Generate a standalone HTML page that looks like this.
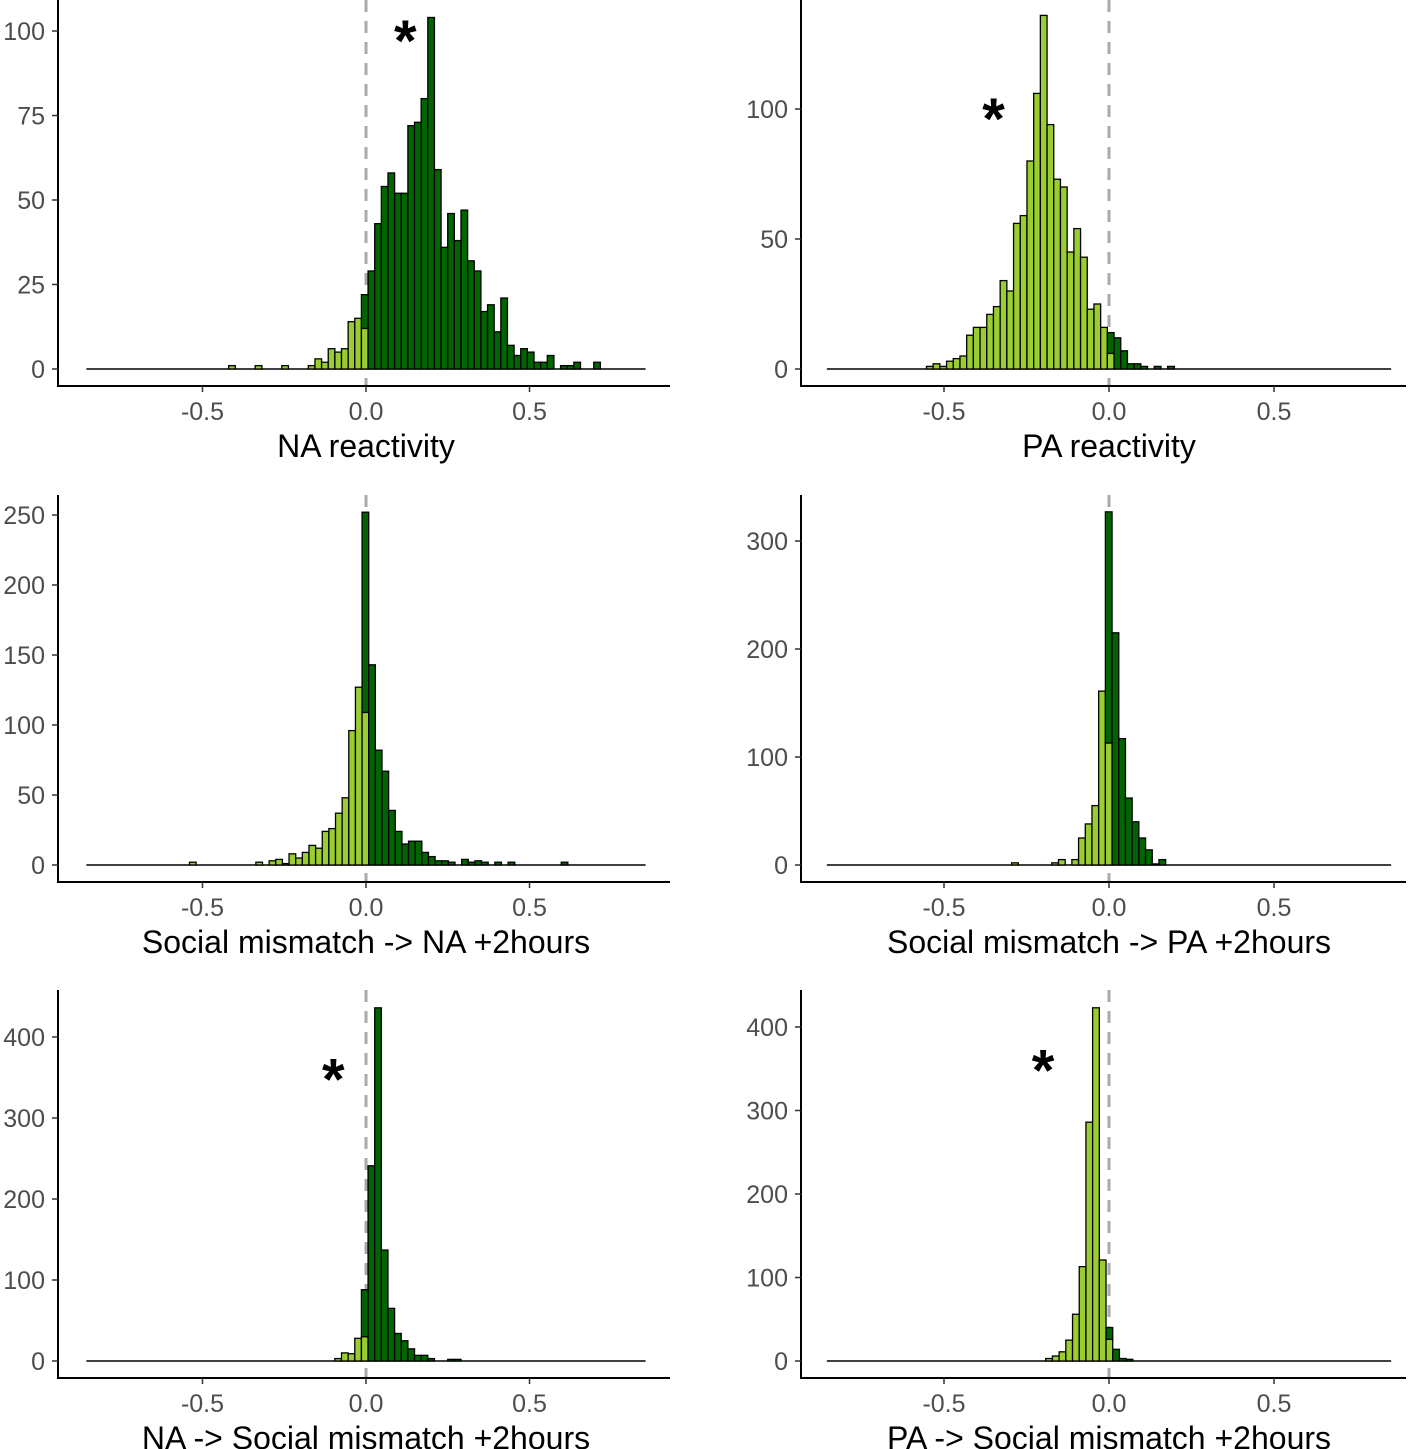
<!DOCTYPE html>
<html><head><meta charset="utf-8"><style>
html,body{margin:0;padding:0;background:#fff;}
svg{display:block;font-family:"Liberation Sans",sans-serif;}
</style></head><body>
<svg id="chart" width="1416" height="1449" viewBox="0 0 1416 1449" xmlns="http://www.w3.org/2000/svg"></svg>
<script>
// ---- data (counts per bin; bin index k, left edge = offset + k*binWidth) ----
const xTickLabels = ["-0.5", "0.0", "0.5"];
const xTickValues = [-0.5, 0, 0.5];
const titles = ["NA reactivity", "PA reactivity", "Social mismatch -> NA +2hours", "Social mismatch -> PA +2hours", "NA -> Social mismatch +2hours", "PA -> Social mismatch +2hours"];
const yTicks1 = [0, 25, 50, 75, 100];
const yTicks2 = [0, 50, 100];
const yTicks3 = [0, 50, 100, 150, 200, 250];
const yTicks4 = [0, 100, 200, 300];
const yTicks5 = [0, 100, 200, 300, 400];
const yTicks6 = [0, 100, 200, 300, 400];
const binWidth = 0.0203;
const binOffsets = [-0.014, -0.005, -0.012, -0.011, -0.014, -0.009];
const lightStart = [-20, -27, -26, -14, -4, -9];
const darkStart = [0, 0, 0, 0, 0, 0];
const p1Light = [1,0,0,0,1,0,0,0,1,0,0,0,1,3,2,6,5,6,14,15,12];
const p1Dark = [10,29,43,54,58,52,52,72,73,80,104,59,36,46,38,47,32,29,17,19,11,21,7,4,6,5,2,2,4,0,1,1,2,0,0,2];
const p2Light = [1,2,1,3,4,5,13,16,16,21,24,34,30,56,59,80,106,136,94,73,70,45,54,43,23,25,16,6];
const p2Dark = [8,12,7,2,2,1,0,1,0,1];
const p3Light = [2,0,0,0,0,0,0,0,0,0,2,0,3,4,1,8,5,9,14,12,24,26,37,48,96,127,109];
const p3Dark = [143,143,82,67,39,24,15,17,17,9,6,3,3,2,0,4,2,3,2,0,2,0,2,0,0,0,0,0,0,0,2];
const p4Light = [2,0,0,0,0,0,2,5,0,5,25,38,55,161,113];
const p4Dark = [214,215,117,62,40,25,14,1,5];
const p5Light = [3,10,9,28,30];
const p5Dark = [58,241,436,137,65,34,25,15,7,7,3,0,0,2,2];
const p6Light = [3,6,11,25,56,113,286,423,121,26];
const p6Dark = [14,14,3,2];
const starPanels = [0, 1, 4, 5];
const starX = [0.12, -0.35, -0.10, -0.20];
const starY = [100, 100, 360, 360];

// ---- layout (not data) ----
const lights = [p1Light,p2Light,p3Light,p4Light,p5Light,p6Light];
const darks = [p1Dark,p2Dark,p3Dark,p4Dark,p5Dark,p6Dark];
const yTicksAll = [yTicks1,yTicks2,yTicks3,yTicks4,yTicks5,yTicks6];
const layout = [
 {ax:58, zero:366, pxu:327, y0:369, ppc:3.38, top:0, axY:386, xEnd:670},
 {ax:801, zero:1109, pxu:330, y0:369, ppc:2.6, top:0, axY:386, xEnd:1406},
 {ax:58, zero:366, pxu:327, y0:865, ppc:1.4, top:495, axY:882, xEnd:670},
 {ax:801, zero:1109, pxu:330, y0:865, ppc:1.08, top:495, axY:882, xEnd:1406},
 {ax:58, zero:366, pxu:327, y0:1361, ppc:0.81, top:990, axY:1378, xEnd:670},
 {ax:801, zero:1109, pxu:330, y0:1361, ppc:0.835, top:990, axY:1378, xEnd:1406}
];
const svg = document.getElementById('chart');
const NS = 'http://www.w3.org/2000/svg';
function mk(tag, attrs, parent){const e=document.createElementNS(NS,tag);for(const k in attrs)e.setAttribute(k,attrs[k]);(parent||svg).appendChild(e);return e;}

layout.forEach((L,p)=>{
  const g = mk('g',{});
  
  
  const xs = v => L.zero + v*L.pxu;
  const ys = c => L.y0 - c*L.ppc;
  // zero line (under bars)
  const zl = mk('line',{x1:xs(0),x2:xs(0),y1:L.top,y2:L.axY,stroke:'#aaa','stroke-width':3,'stroke-dasharray':'12,9'},g);
  
  
  // baseline
  const bl = mk('line',{x1:xs(-0.855),x2:xs(0.855),y1:L.y0,y2:L.y0,stroke:'#000','stroke-width':1.6},g);
  
  
  const light = lights[p], dark = darks[p];
  const lightH = {};
  light.forEach((c,i)=>{
    const k = lightStart[p]+i; lightH[k]=c;
    if(c<=0) return;
    const x0 = xs(binOffsets[p]+k*binWidth);
    const r = mk('rect',{x:x0,y:ys(c),width:binWidth*L.pxu,height:c*L.ppc,fill:'#9ACD32',stroke:'#000','stroke-width':1.3},g);
    
    
  });
  dark.forEach((c,i)=>{
    const k = darkStart[p]+i;
    if(c<=0) return;
    const base = lightH[k]||0;
    const x0 = xs(binOffsets[p]+k*binWidth);
    const r = mk('rect',{x:x0,y:ys(base+c),width:binWidth*L.pxu,height:c*L.ppc,fill:'#006400',stroke:'#000','stroke-width':1.3},g);
    
    
  });
  // axes
  const ya = mk('line',{x1:L.ax,x2:L.ax,y1:L.top,y2:L.axY+1,stroke:'#000','stroke-width':2},g);
  
  
  const xa = mk('line',{x1:L.ax-1,x2:L.xEnd,y1:L.axY,y2:L.axY,stroke:'#000','stroke-width':2},g);
  
  
  yTicksAll[p].forEach(t=>{
    mk('line',{x1:L.ax-6,x2:L.ax,y1:ys(t),y2:ys(t),stroke:'#333','stroke-width':1.5},g);
    const tx = mk('text',{x:L.ax-13,y:ys(t)+9,'text-anchor':'end','font-size':25,fill:'#4d4d4d'},g);
    tx.textContent = t;
    
    
  });
  xTickValues.forEach((v,i)=>{
    mk('line',{x1:xs(v),x2:xs(v),y1:L.axY,y2:L.axY+6,stroke:'#333','stroke-width':1.5},g);
    const tx = mk('text',{x:xs(v),y:L.axY+34,'text-anchor':'middle','font-size':25,fill:'#4d4d4d'},g);
    tx.textContent = xTickLabels[i];
    
    
  });
  const tt = mk('text',{x:xs(0),y:L.axY+71,'text-anchor':'middle','font-size':32,fill:'#000'},g);
  tt.textContent = titles[p];
  
  
});
starPanels.forEach((p,i)=>{
  const L = layout[p];
  const st = mk('text',{x:L.zero+starX[i]*L.pxu,y:L.y0-starY[i]*L.ppc+30,'text-anchor':'middle','font-size':58,'font-weight':'bold',fill:'#000'});
  st.textContent = '*';
  
  
});
</script>
</body></html>
